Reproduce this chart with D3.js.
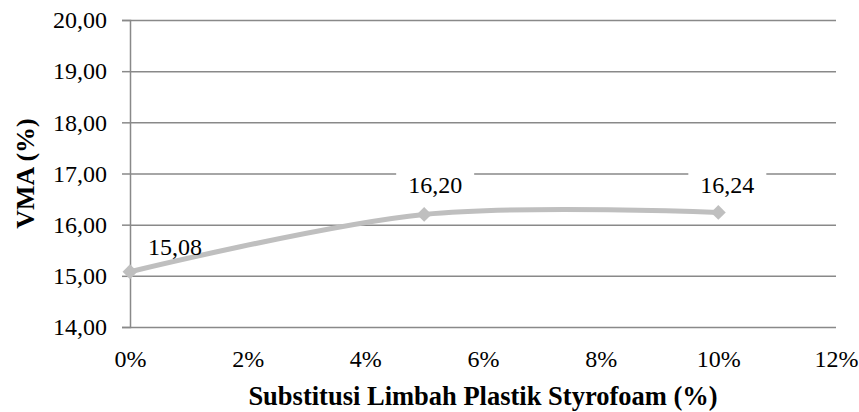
<!DOCTYPE html>
<html>
<head>
<meta charset="utf-8">
<script src="https://cdn.jsdelivr.net/npm/d3@7"></script>
<style>
  body { margin: 0; background: #fff; }
  svg { display: block; font-family: "Liberation Serif", "Times New Roman", serif; }
</style>
</head>
<body>
<svg class="chart"></svg>
<script>
const kadar = [0, 5, 10];
const vma = [15.08, 16.20, 16.24];
const xTicks = [0, 2, 4, 6, 8, 10, 12];
const yTicks = [14, 15, 16, 17, 18, 19, 20];

const width = 859;
const height = 412;
const margin = {top: 20, right: 23, bottom: 85, left: 130};
const serif = '"Liberation Serif", "Times New Roman", serif';

// label placement relative to each point (dx, dy)
const labelShift = [[45, -17], [11, -21], [9, -19]];

const svg = d3.select(".chart")
    .attr("width", width)
    .attr("height", height);

const x = d3.scaleLinear()
    .domain([0, 12])
    .range([margin.left, width - margin.right]);

const y = d3.scaleLinear()
    .domain([14, 20])
    .range([height - margin.bottom, margin.top]);

const fmt = d => d.toFixed(2).replace(".", ",");

// gridlines
svg.append("g")
    .attr("transform", `translate(${margin.left},0)`)
    .call(d3.axisLeft(y).tickValues(yTicks).tickSize(-(width - margin.left - margin.right)).tickFormat(""))
    .call(g => g.select(".domain").remove())
    .call(g => g.selectAll(".tick line").attr("stroke", "#898989").attr("stroke-width", 1.5));

svg.append("g")
    .attr("transform", `translate(${margin.left},0)`)
    .call(d3.axisLeft(y).tickValues(yTicks).tickSize(8).tickPadding(15).tickFormat(fmt))
    .call(g => g.select(".domain").attr("stroke", "#898989").attr("stroke-width", 1.5))
    .call(g => g.selectAll(".tick line").attr("stroke", "#898989").attr("stroke-width", 1.5))
    .call(g => g.selectAll(".tick text")
        .attr("fill", "#000")
        .style("font-family", serif)
        .style("font-size", "24px"));

svg.append("g")
    .attr("transform", `translate(0,${height - margin.bottom})`)
    .call(d3.axisBottom(x).tickValues(xTicks).tickSize(0).tickPadding(23).tickFormat(d => d + "%"))
    .call(g => g.select(".domain").remove())
    .call(g => g.selectAll(".tick text")
        .attr("fill", "#000")
        .style("font-family", serif)
        .style("font-size", "24px"));

const pts = kadar.map((k, i) => ({k, v: vma[i], s: labelShift[i]}));

// white boxes behind data labels (hide gridlines only)
svg.append("g")
    .selectAll("rect")
    .data(pts)
    .join("rect")
    .attr("x", d => x(d.k) + d.s[0] - 39)
    .attr("y", d => y(d.v) + d.s[1] - 26)
    .attr("width", 78)
    .attr("height", 32)
    .attr("fill", "#fff");

const line = d3.line()
    .x(d => x(d.k))
    .y(d => y(d.v))
    .curve(d3.curveCatmullRom.alpha(0.5));

svg.append("path")
    .datum(pts)
    .attr("fill", "none")
    .attr("stroke", "#bfbfbf")
    .attr("stroke-width", 5)
    .attr("stroke-linejoin", "round")
    .attr("d", line);

svg.append("g")
    .selectAll("path")
    .data(pts)
    .join("path")
    .attr("transform", d => `translate(${x(d.k)},${y(d.v)}) rotate(45)`)
    .attr("d", d3.symbol(d3.symbolSquare, 110))
    .attr("fill", "#bfbfbf");

svg.append("g")
    .selectAll("text")
    .data(pts)
    .join("text")
    .attr("x", d => x(d.k) + d.s[0])
    .attr("y", d => y(d.v) + d.s[1])
    .attr("text-anchor", "middle")
    .style("font-family", serif)
    .style("font-size", "24px")
    .text(d => fmt(d.v));

svg.append("text")
    .attr("x", (margin.left + width - margin.right) / 2)
    .attr("y", 405)
    .attr("text-anchor", "middle")
    .style("font-family", serif)
    .style("font-size", "26.5px")
    .style("font-weight", "bold")
    .text("Substitusi Limbah Plastik Styrofoam (%)");

svg.append("text")
    .attr("transform", `translate(34,${(margin.top + height - margin.bottom) / 2}) rotate(-90)`)
    .attr("text-anchor", "middle")
    .style("font-family", serif)
    .style("font-size", "26px")
    .style("font-weight", "bold")
    .text("VMA (%)");
</script>
</body>
</html>
